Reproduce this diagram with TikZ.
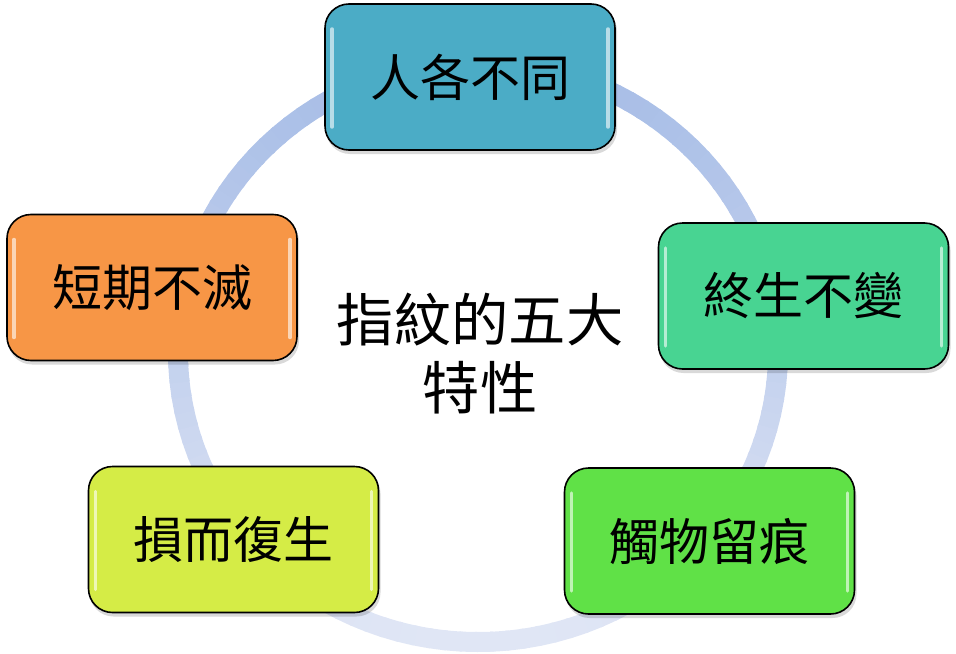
\documentclass[tikz,border=0pt]{standalone}
\usepackage{fontspec}
\newfontfamily\cjk{Noto Sans CJK TC}
\definecolor{ringtop}{RGB}{166,188,230}
\definecolor{ringbot}{RGB}{224,230,245}
\definecolor{cA}{RGB}{75,172,198}
\definecolor{cB}{RGB}{72,212,146}
\definecolor{cC}{RGB}{96,225,71}
\definecolor{cD}{RGB}{213,236,70}
\definecolor{cE}{RGB}{247,150,70}
\newcommand\mycard[5]{%
  \fill[black, opacity=0.15, rounded corners=18pt] ({#2-144},{#3-70}) rectangle ({#2+147},{#3+77});
  \node[card, fill=#4] (#1) at (#2,#3) {#5};
  \draw[white, opacity=0.6, line width=2.6pt, line cap=round] ({#2-138},{#3-48}) -- ({#2-138},{#3+50});
  \draw[white, opacity=0.6, line width=2.6pt, line cap=round] ({#2+138},{#3-48}) -- ({#2+138},{#3+50});
}
\begin{document}
\begin{tikzpicture}[x=0.75pt,y=-0.75pt,
  card/.style={draw=black, line width=1.2pt, rounded corners=18pt,
    minimum width=217.5pt, minimum height=109.5pt, inner sep=0pt,
    font=\cjk\fontsize{37.5}{45}\selectfont, text=black},
  title/.style={align=center, inner sep=0pt, font=\cjk\fontsize{43}{51}\selectfont, text=black}]
\useasboundingbox (0,0) rectangle (956,653);
\foreach \a in {0,3,...,357} {
  \pgfmathtruncatemacro\p{50*(1-sin(\a+1.5))}
  \draw[line width=15pt, color=ringtop!\p!ringbot]
    ({478+300*cos(\a)},{352+290*sin(\a)}) arc[start angle=\a, end angle=\a+3.6, x radius=300, y radius=290];
}
\mycard{n1}{470}{77}{cA}{人各不同}
\mycard{n2}{803.5}{296}{cB}{終生不變}
\mycard{n3}{709.5}{541}{cC}{觸物留痕}
\mycard{n4}{233.5}{539.5}{cD}{損而復生}
\mycard{n5}{152}{287.5}{cE}{短期不滅}
\node[title] (t) at (480,354) {指紋的五大\\特性};
\end{tikzpicture}
\end{document}
